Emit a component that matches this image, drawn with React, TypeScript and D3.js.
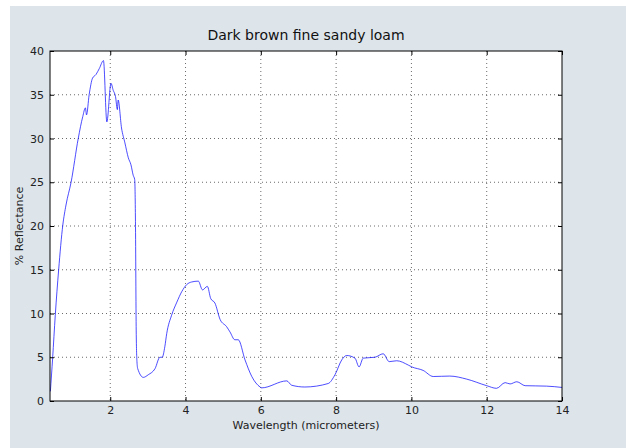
import { useEffect, useRef } from 'react';
import * as d3 from 'd3';

// wavelength (micrometers) and % reflectance
const wavelength = [
  0.41, 0.47, 0.54, 0.63, 0.74, 0.825, 0.96, 1.15, 1.27, 1.34, 1.37, 1.44, 1.53, 1.62, 1.71, 1.82,
  1.91, 2.02, 2.08, 2.14, 2.19, 2.21, 2.3, 2.39, 2.48, 2.55, 2.61, 2.65, 2.67, 2.69, 2.71, 2.73,
  2.88, 3.01, 3.19, 3.32, 3.38, 3.45, 3.5, 3.63, 3.77, 3.9, 4.03, 4.16, 4.34, 4.45, 4.58, 4.67,
  4.78, 4.92, 5.09, 5.18, 5.31, 5.4, 5.58, 5.76, 5.98, 6.02, 6.69, 6.82, 7.17, 7.79, 7.97, 8.15,
  8.28, 8.5, 8.61, 8.72, 9.03, 9.25, 9.41, 9.61, 9.92, 10.01, 10.31, 10.58, 11.02, 11.47, 12.0,
  12.26, 12.49, 12.62, 12.8, 13.02, 13.59, 14.0,
];
const reflectance = [
  1.1, 4.9, 9.8, 15.0, 20.1, 22.4, 25.0, 30.0, 32.5, 33.5, 32.7, 35.0, 36.9, 37.3, 38.0, 38.9,
  31.9, 36.3, 35.5, 34.8, 33.3, 34.4, 31.2, 29.5, 27.8, 27.0, 25.8, 25.3, 20.5, 8.0, 4.5, 3.7,
  2.7, 3.0, 3.7, 5.0, 5.0, 6.2, 7.7, 9.8, 11.3, 12.5, 13.3, 13.6, 13.7, 12.7, 13.1, 11.7,
  11.2, 9.3, 8.5, 7.9, 7.0, 7.0, 4.7, 2.8, 1.6, 1.5, 2.3, 1.8, 1.6, 2.0, 3.0, 4.7,
  5.2, 4.9, 3.9, 4.9, 5.0, 5.4, 4.5, 4.6, 4.1, 3.9, 3.5, 2.8, 2.85, 2.5, 1.75,
  1.45, 2.1, 1.95, 2.2, 1.75, 1.7, 1.55,
];
const xTicks = [2, 4, 6, 8, 10, 12, 14];
const yTicks = [0, 5, 10, 15, 20, 25, 30, 35, 40];

const W = 626;
const H = 448;
const margin = { top: 51, right: 64, bottom: 47, left: 50 };

const App = () => {
  const ref = useRef<SVGSVGElement>(null!);

  useEffect(() => {
    const svg = d3.select(ref.current);
    svg.selectAll('*').remove();
    const font = 'DejaVu Sans, sans-serif';
    const iw = W - margin.left - margin.right;
    const ih = H - margin.top - margin.bottom;

    svg.append('rect').attr('x', 10).attr('y', 6).attr('width', W - 10).attr('height', H - 6).attr('fill', '#dde5eb');

    const x = d3.scaleLinear().domain([0.4, 14]).range([0, iw]);
    const y = d3.scaleLinear().domain([0, 40]).range([ih, 0]);

    const g = svg.append('g').attr('transform', `translate(${margin.left},${margin.top})`);
    g.append('rect').attr('width', iw).attr('height', ih).attr('fill', '#fff');

    // dotted grid
    g.selectAll('.gx')
      .data(xTicks.filter(t => t < 14))
      .enter()
      .append('line')
      .attr('x1', d => x(d))
      .attr('x2', d => x(d))
      .attr('y1', 0)
      .attr('y2', ih)
      .attr('stroke', '#444')
      .attr('stroke-width', 0.8)
      .attr('stroke-dasharray', '1,3');
    g.selectAll('.gy')
      .data(yTicks.filter(t => t > 0 && t < 40))
      .enter()
      .append('line')
      .attr('x1', 0)
      .attr('x2', iw)
      .attr('y1', d => y(d))
      .attr('y2', d => y(d))
      .attr('stroke', '#444')
      .attr('stroke-width', 0.8)
      .attr('stroke-dasharray', '1,3');

    const pts = wavelength.map((w, i) => [w, reflectance[i]] as [number, number]);
    const line = d3
      .line<[number, number]>()
      .x(d => x(d[0]))
      .y(d => y(d[1]))
      .curve(d3.curveMonotoneX);
    g.append('path').attr('d', line(pts)).attr('fill', 'none').attr('stroke', '#0000ff').attr('stroke-width', 0.7);

    // axes with inward ticks on all sides
    const bottom = g.append('g').attr('transform', `translate(0,${ih})`).call(d3.axisBottom(x).tickValues(xTicks).tickSizeInner(-4).tickSizeOuter(0).tickPadding(5));
    const left = g.append('g').call(d3.axisLeft(y).tickValues(yTicks).tickSizeInner(-4).tickSizeOuter(0).tickPadding(6));
    const top = g.append('g').call(d3.axisTop(x).tickValues(xTicks).tickSizeInner(-4).tickSizeOuter(0).tickFormat(() => ''));
    const right = g.append('g').attr('transform', `translate(${iw},0)`).call(d3.axisRight(y).tickValues(yTicks).tickSizeInner(-4).tickSizeOuter(0).tickFormat(() => ''));
    [bottom, left, top, right].forEach(a => {
      a.select('.domain').remove();
      a.selectAll('text').attr('font-family', font).attr('font-size', 11).attr('fill', '#222');
      a.selectAll('line').attr('stroke', '#000');
    });

    g.append('rect').attr('width', iw).attr('height', ih).attr('fill', 'none').attr('stroke', '#000').attr('stroke-width', 1);

    svg
      .append('text')
      .attr('x', margin.left + iw / 2)
      .attr('y', 40)
      .attr('text-anchor', 'middle')
      .attr('font-family', font)
      .attr('font-size', 14)
      .attr('fill', '#111')
      .text('Dark brown fine sandy loam');
    svg
      .append('text')
      .attr('x', margin.left + iw / 2)
      .attr('y', 429)
      .attr('text-anchor', 'middle')
      .attr('font-family', font)
      .attr('font-size', 11)
      .attr('fill', '#222')
      .text('Wavelength (micrometers)');
    svg
      .append('text')
      .attr('transform', `translate(23,${margin.top + ih / 2}) rotate(-90)`)
      .attr('text-anchor', 'middle')
      .attr('font-family', font)
      .attr('font-size', 11)
      .attr('fill', '#222')
      .text('% Reflectance');
  }, []);

  return <svg ref={ref} width={W} height={H} style={{ position: 'absolute', left: 0, top: 0 }} />;
};

export default App;
